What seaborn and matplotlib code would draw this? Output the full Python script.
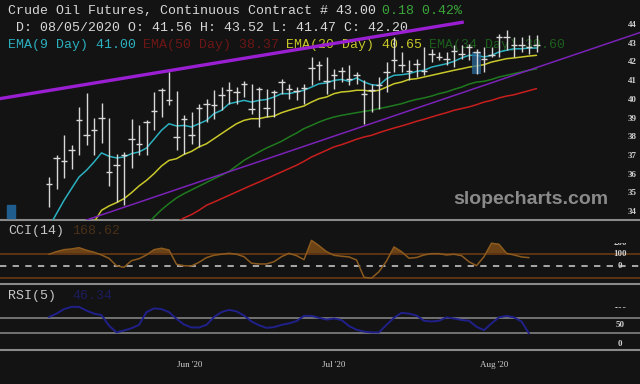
import numpy as np
import matplotlib
matplotlib.use("Agg")
import matplotlib.pyplot as plt
from matplotlib.patches import Rectangle
from matplotlib.transforms import Bbox, TransformedBbox
import seaborn as sns

# daily bars (high / low / close)
highs = [35.87, 37.07, 38.14, 37.57, 39.61, 40.38, 39.03, 39.85, 39.03, 37.12,
         37.20, 38.99, 38.67, 38.90, 40.42, 40.63, 41.49, 40.45, 39.17, 39.35,
         39.79, 40.02, 40.51, 40.68, 40.95, 40.68, 40.99, 40.86, 40.68, 40.60,
         40.51, 41.13, 40.86, 40.68, 40.86, 42.29, 42.06, 42.29, 41.66, 41.75,
         41.84, 41.49, 41.04, 40.86, 41.22, 42.02, 43.36, 42.56, 42.11, 42.20,
         42.82, 42.73, 42.56, 42.56, 42.91, 42.91, 43.00, 42.73, 42.82, 42.82,
         43.54, 43.71, 43.36, 43.36, 43.45, 43.45]
lows = [34.27, 35.25, 35.82, 36.32, 37.03, 37.57, 37.03, 37.71, 35.39, 34.53,
        34.36, 36.35, 37.03, 37.07, 38.37, 39.08, 39.74, 37.30, 37.12, 37.65,
        37.48, 38.80, 38.99, 39.44, 39.79, 39.79, 40.15, 39.26, 38.55, 39.08,
        39.08, 40.33, 40.06, 39.97, 39.79, 40.77, 41.04, 40.33, 40.60, 40.95,
        40.77, 40.86, 38.72, 39.35, 39.53, 40.42, 41.49, 41.49, 41.04, 41.22,
        41.31, 42.02, 42.11, 41.84, 41.75, 42.20, 42.11, 41.40, 41.49, 42.29,
        42.29, 42.65, 42.29, 42.56, 42.47, 42.56]
closes = [35.52, 36.89, 36.71, 37.33, 38.94, 38.14, 38.37, 39.04, 36.14, 36.53,
          37.03, 37.89, 37.65, 38.81, 39.38, 40.54, 39.97, 38.01, 38.99, 38.10,
          39.56, 39.79, 39.70, 40.24, 40.51, 40.42, 40.86, 39.53, 40.60, 39.56,
          40.42, 40.95, 40.60, 40.45, 40.63, 41.70, 41.88, 40.99, 41.31, 41.52,
          41.09, 41.34, 40.33, 40.51, 40.77, 41.49, 42.11, 41.88, 41.52, 41.93,
          41.52, 42.47, 42.29, 42.16, 42.59, 42.47, 42.82, 42.56, 42.20, 42.38,
          43.36, 43.36, 42.91, 42.91, 42.82, 42.91]

# moving averages as drawn (each starts at its own bar)
ema9 = [33.20, 33.91, 34.62, 35.25, 35.87, 36.23, 36.67, 37.16, 36.98, 36.89,
        36.94, 37.12, 37.21, 37.42, 37.89, 38.37, 38.72, 38.60, 38.63, 38.55,
        38.72, 38.90, 39.26, 39.44, 39.79, 39.88, 39.97, 39.88, 39.97, 40.02,
        40.15, 40.33, 40.33, 40.42, 40.51, 40.68, 40.86, 40.90, 41.04, 41.09,
        40.99, 41.17, 40.95, 40.81, 40.77, 41.13, 41.31, 41.34, 41.40, 41.52,
        41.58, 41.75, 41.84, 41.93, 42.06, 42.24, 42.38, 42.38, 42.29, 42.38,
        42.56, 42.65, 42.73, 42.73, 42.77, 42.77]
ema20 = [33.45, 34.09, 34.32, 34.50, 34.71, 35.03, 35.39, 35.69, 36.05, 36.46,
         36.76, 36.85, 37.08, 37.24, 37.48, 37.65, 37.92, 38.19, 38.46, 38.72,
         38.90, 38.99, 38.99, 39.08, 39.13, 39.31, 39.44, 39.56, 39.67, 39.88,
         40.06, 40.15, 40.33, 40.42, 40.45, 40.51, 40.51, 40.45, 40.51, 40.68,
         40.86, 40.95, 41.09, 41.13, 41.22, 41.31, 41.40, 41.49, 41.58, 41.66,
         41.75, 41.81, 41.88, 42.02, 42.11, 42.20, 42.24, 42.29, 42.34, 42.38]
ema34 = [33.30, 33.73, 34.12, 34.45, 34.75, 34.98, 35.18, 35.38, 35.58, 35.78,
         35.97, 36.17, 36.46, 36.76, 36.99, 37.21, 37.42, 37.60, 37.78, 38.01,
         38.22, 38.46, 38.63, 38.81, 38.96, 39.08, 39.17, 39.24, 39.31, 39.38,
         39.44, 39.53, 39.61, 39.70, 39.79, 39.92, 40.02, 40.10, 40.20, 40.33,
         40.42, 40.56, 40.68, 40.84, 40.95, 40.99, 41.09, 41.22, 41.31, 41.40,
         41.49, 41.58, 41.66]
ema50 = [33.45, 33.68, 33.86, 34.09, 34.36, 34.53, 34.71, 34.89, 35.07, 35.25,
         35.43, 35.60, 35.78, 35.96, 36.14, 36.32, 36.50, 36.71, 36.94, 37.12,
         37.30, 37.48, 37.60, 37.74, 37.89, 38.01, 38.10, 38.24, 38.37, 38.49,
         38.60, 38.72, 38.85, 38.96, 39.08, 39.20, 39.31, 39.44, 39.53, 39.62,
         39.74, 39.88, 39.97, 40.10, 40.20, 40.27, 40.38, 40.49, 40.60]
ema_start = {"ema9": 0, "ema20": 6, "ema34": 13, "ema50": 17}

cci = [102, 124, 141, 147, 158, 136, 119, 96, 67, 4,
       -9, 47, 64, 96, 141, 153, 138, 16, 4, 2,
       33, 73, 93, 102, 110, 102, 81, 25, 19, 19,
       38, 81, 110, 90, 56, 220, 175, 124, 93, 85,
       79, 53, -95, -102, -47, 44, 164, 124, 68, 74,
       96, 107, 107, 96, 102, 90, 38, 4, 81, 196,
       187, 110, 96, 79, 73]
rsi = [72, 81, 93, 99, 99, 89, 81, 77, 49, 31,
       36, 42, 51, 85, 95, 93, 85, 67, 52, 44,
       44, 51, 72, 85, 91, 87, 76, 60, 50, 43,
       45, 51, 55, 61, 75, 75, 70, 65, 68, 64,
       48, 38, 33, 31, 31, 51, 70, 83, 81, 76,
       62, 60, 62, 71, 68, 64, 62, 46, 37, 55,
       71, 75, 71, 60, 28]

# hand drawn trend lines (bar index, price)
upper_trend_x = [-6.6, 55.3]
upper_trend_y = [40.06, 44.16]
lower_trend_x = [5.0, 78.8]
lower_trend_y = [33.57, 43.6]

month_labels = ["Jun '20", "Jul '20", "Aug '20"]
month_pos = [18.8, 38.0, 59.3]
price_ticks = list(range(34, 45))
cci_ticks = [200, 100, 0]
rsi_ticks = [100, 50, 0]
hover_bar = 57

bg = "#131313"
sns.set_theme(style="dark", rc={"axes.facecolor": bg, "figure.facecolor": bg,
                                "savefig.facecolor": bg})
plt.rcParams["font.family"] = ["Liberation Mono", "DejaVu Sans"]

W, H = 640, 384
def fx(px):
    return px / W
def fy(py):
    return 1 - py / H

fig = plt.figure(figsize=(6.4, 3.84), dpi=100)
ax = fig.add_axes([0, fy(220), 1, 220 / H])
ax_cci = fig.add_axes([0, fy(284), 1, 45 / H])
ax_rsi = fig.add_axes([0, fy(350), 1, 45 / H])

xlim = (-49 / 7.5, (640 - 49) / 7.5)
for a in (ax, ax_cci, ax_rsi):
    a.set_xlim(*xlim)
    a.set_yticks([])
    a.set_xticks([])
    for s in ("top", "left", "right"):
        a.spines[s].set_visible(False)
    a.spines["bottom"].set_color("#8a8a8a")
    a.spines["bottom"].set_linewidth(1.5)
    a.grid(False)

lab_c = "#d0d0d0"
def side_labels(a, ticks, xpx, top_px):
    # value labels inside the panel, cut off at the panel's top like the original
    clip = TransformedBbox(Bbox([[0, 0], [1, fy(top_px)]]), fig.transFigure)
    for v in ticks:
        t = a.text(fx(xpx), v, str(v), transform=a.get_yaxis_transform(), ha="center",
                   va="center", fontsize=6.5, fontweight="bold", color=lab_c,
                   family="Liberation Serif")
        t.set_clip_path(None)
        t.set_clip_box(clip)
        t.set_clip_on(True)

# ---- price panel
ax.set_ylim(33.57, 45.34)
x = np.arange(len(highs))
bar_c = "#d8d8d8"
ax.vlines(x, lows, highs, color=bar_c, lw=1.0, zorder=5)
ax.hlines(closes, x - 0.42, x + 0.42, color=bar_c, lw=1.0, zorder=5)

ax.add_patch(Rectangle((hover_bar - 0.55, lows[hover_bar]), 1.1,
                       closes[hover_bar] - lows[hover_bar],
                       color="#2a6a9a", alpha=0.75, lw=0, zorder=4))

ema_cols = {"ema9": "#2bb0c0", "ema20": "#c8c82a", "ema34": "#1f7a1f", "ema50": "#c81e1e"}
for name, vals in (("ema50", ema50), ("ema34", ema34), ("ema20", ema20), ("ema9", ema9)):
    xs = np.arange(ema_start[name], ema_start[name] + len(vals))
    sns.lineplot(x=xs, y=vals, ax=ax, color=ema_cols[name], lw=1.1, zorder=3)

ax.plot(upper_trend_x, upper_trend_y, color="#9a1fd2", lw=2.4, zorder=3, solid_capstyle="butt")
ax.plot(lower_trend_x, lower_trend_y, color="#7a22b8", lw=1.1, zorder=3)

side_labels(ax, price_ticks, 632, 0)

ax.text(fx(453), fy(204), "slopecharts.com", transform=fig.transFigure, fontsize=14,
        fontweight="bold", color="#8a8a8a", family="Liberation Sans", va="baseline", zorder=1)

# header lines (monospace, pieces placed by character count)
cw = 7.95
header = [
    (11, [("Crude Oil Futures, Continuous Contract # 43.00 ", "#d8d8d8"), ("0.18 0.42%", "#3aa53a")]),
    (28, [(" D: 08/05/2020 O: 41.56 H: 43.52 L: 41.47 C: 42.20", "#d8d8d8")]),
    (45, [("EMA(9 Day) 41.00 ", "#2bb0c0"), ("EMA(50 Day) 38.37 ", "#6e1616"),
          ("EMA(20 Day) 40.65 ", "#c8c82a"), ("EMA(34 Day) 39.60", "#1d5e1d")]),
]
for ypx, pieces in header:
    n = 0
    for txt, col in pieces:
        ax.text(fx(8 + n * cw), fy(ypx), txt, transform=fig.transFigure, color=col,
                fontsize=9.5, va="center", ha="left", zorder=1)
        n += len(txt)

fig.add_artist(Rectangle((fx(7), fy(218)), 8.5 / W, 13 / H, color="#1f5d8f",
                         transform=fig.transFigure))

# ---- CCI panel
ax_cci.set_ylim(-152, 232)
xc = np.arange(len(cci))
cci_a = np.array(cci, dtype=float)
ax_cci.fill_between(xc, cci_a, 100, where=cci_a > 100, interpolate=True, color="#6a4216", lw=0)
ax_cci.fill_between(xc, cci_a, -100, where=cci_a < -100, interpolate=True, color="#6a4216", lw=0)
ax_cci.axhline(100, color="#5c3414", lw=1.4)
ax_cci.axhline(-100, color="#5c3414", lw=1.4)
ax_cci.axhline(0, color="#b4b4b4", lw=1.3, linestyle=(0, (3.5, 3.5)))
sns.lineplot(x=xc, y=cci, ax=ax_cci, color="#8c5a1e", lw=1.1)
side_labels(ax_cci, cci_ticks, 620, 242.5)
fig.text(fx(8), fy(231), "CCI(14)", color="#c8c8c8", fontsize=9.5, va="center")
fig.text(fx(72), fy(231), "168.62", color="#4a3018", fontsize=9.5, va="center")

# ---- RSI panel
ax_rsi.set_ylim(-16, 104)
ax_rsi.axhline(70, color="#7a7a7a", lw=1.3)
ax_rsi.axhline(30, color="#7a7a7a", lw=1.3)
sns.lineplot(x=np.arange(len(rsi)), y=rsi, ax=ax_rsi, color="#20208a", lw=1.4)
side_labels(ax_rsi, rsi_ticks, 620, 306.5)
fig.text(fx(8), fy(296), "RSI(5)", color="#c8c8c8", fontsize=9.5, va="center")
fig.text(fx(72), fy(296), "46.34", color="#1c1c5c", fontsize=9.5, va="center")

ax_rsi.set_xticks(month_pos, month_labels)
ax_rsi.tick_params(axis="x", length=0, pad=8, labelsize=6.5, colors=lab_c)
for t in ax_rsi.get_xticklabels():
    t.set_family("Liberation Serif")
for a in (ax, ax_cci, ax_rsi):
    a.set_xlabel("")
    a.set_ylabel("")

fig.savefig("out.png", dpi=100, facecolor=bg)
